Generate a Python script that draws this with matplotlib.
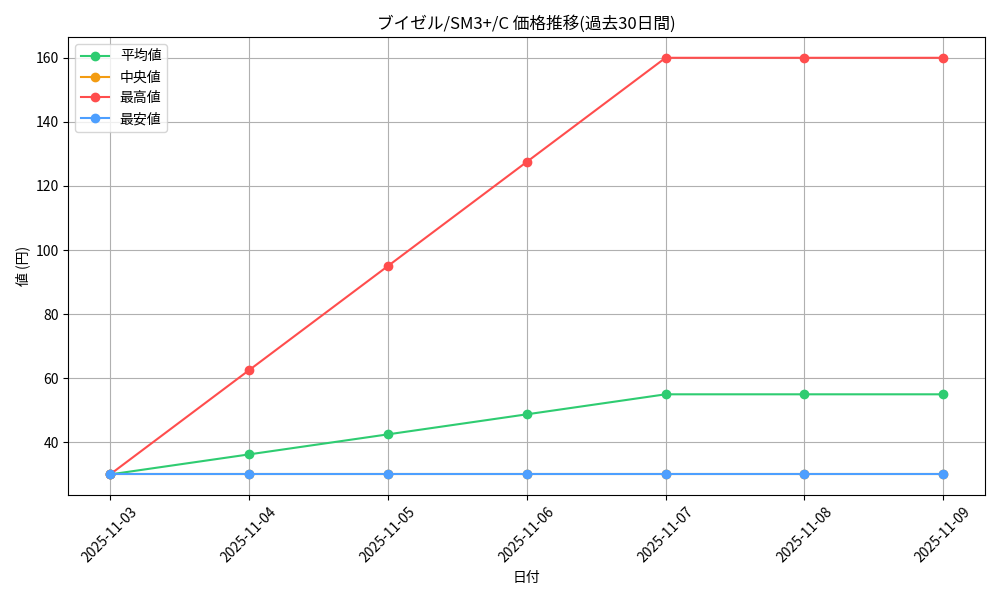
import matplotlib
matplotlib.use("Agg")
import matplotlib.pyplot as plt

plt.rcParams['font.family'] = ['Noto Sans CJK JP', 'DejaVu Sans']

dates = ["2025-11-03", "2025-11-04", "2025-11-05", "2025-11-06",
         "2025-11-07", "2025-11-08", "2025-11-09"]
avg_vals = [30, 36.25, 42.5, 48.75, 55, 55, 55]
median_vals = [30, 30, 30, 30, 30, 30, 30]
max_vals = [30, 62.5, 95, 127.5, 160, 160, 160]
min_vals = [30, 30, 30, 30, 30, 30, 30]

fig, ax = plt.subplots(figsize=(10, 6), dpi=100)
ax.plot(dates, avg_vals, marker="o", color="#2ecc71", label="平均値")
ax.plot(dates, median_vals, marker="o", color="#f39c12", label="中央値")
ax.plot(dates, max_vals, marker="o", color="#ff4d4d", label="最高値")
ax.plot(dates, min_vals, marker="o", color="#4d9fff", label="最安値")

ax.set_title("ブイゼル/SM3+/C 価格推移(過去30日間)")
ax.set_xlabel("日付")
ax.set_ylabel("値 (円)")
ax.grid(True)
ax.legend(loc="upper left")
plt.setp(ax.get_xticklabels(), rotation=45)

plt.tight_layout()
plt.savefig("out.png", dpi=100)
